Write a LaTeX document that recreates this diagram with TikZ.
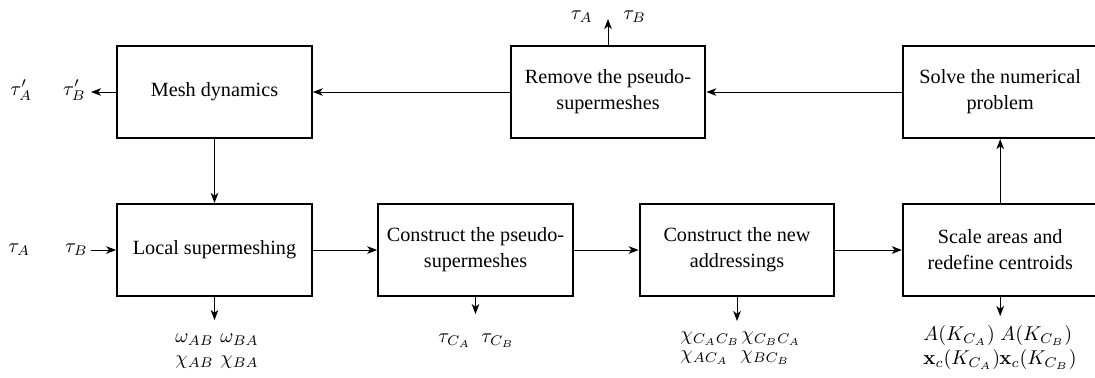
\documentclass[tikz,border=0pt]{standalone}
\usepackage[no-math]{fontspec}
\setmainfont{Liberation Serif}
\newfontfamily\blockfont{Liberation Serif}
\usetikzlibrary{arrows.meta}
\begin{document}
\begin{tikzpicture}[x=0.5pt,y=-0.5pt,
  block/.style={draw, line width=1.1pt, minimum width=97.25pt, minimum height=46pt,
    align=center, inner sep=0pt, font=\blockfont\fontsize{10.1}{13}\selectfont},
  flow/.style={-{Stealth[length=5pt,width=3.8pt,inset=1.4pt]}, line width=0.5pt},
  lbl/.style={inner sep=0pt, font=\fontsize{10}{13}\selectfont}]
\clip (0,0) rectangle (1095,377);

% process blocks
\node[block] (mesh)   at (214.5,92)  {Mesh dynamics};
\node[block] (remove) at (608,92)    {Remove the pseudo-\\supermeshes};
\node[block] (solve)  at (1000.2,92) {Solve the numerical\\problem};
\node[block] (local)  at (214.5,250) {Local supermeshing};
\node[block] (pseudo) at (475.5,250) {Construct the pseudo-\\supermeshes};
\node[block] (new)    at (737,250)   {Construct the new\\addressings};
\node[block] (scale)  at (1000.2,250){Scale areas and\\redefine centroids};

% free ends of inputs and outputs
\coordinate (rmout) at (608,19);
\coordinate (meout) at (91,92);
\coordinate (lcin)  at (91,250);
\coordinate (lcout) at (214.5,320);
\coordinate (psout) at (475.5,314);
\coordinate (nwout) at (737,321);
\coordinate (scout) at (1000.2,316);

% main flow
\draw[flow] (local) -- (pseudo);
\draw[flow] (pseudo) -- (new);
\draw[flow] (new) -- (scale);
\draw[flow] (scale) -- (solve);
\draw[flow] (solve) -- (remove);
\draw[flow] (remove) -- (mesh);
\draw[flow] (mesh) -- (local);

% inputs and outputs
\draw[flow] (remove.north) -- (rmout);
\draw[flow] (mesh.west) -- (meout);
\draw[flow] (lcin) -- (local.west);
\draw[flow] (local.south) -- (lcout);
\draw[flow] (pseudo.south) -- (psout);
\draw[flow] (new.south) -- (nwout);
\draw[flow] (scale.south) -- (scout);

% labels
\node[lbl, anchor=base east] (rmA) at (593,19) {$\tau_A$};
\node[lbl, anchor=base west] (rmB) at (623,19) {$\tau_B$};

\node[lbl, anchor=base west] (meA) at (10,95) {$\tau'_A$};
\node[lbl, anchor=base east] (meB) at (86,95) {$\tau'_B$};

\node[lbl, anchor=base west] (lcA) at (8,252)  {$\tau_A$};
\node[lbl, anchor=base east] (lcB) at (88,252) {$\tau_B$};

\node[lbl, anchor=base west] (wAB) at (175,342)   {$\omega_{AB}$};
\node[lbl, anchor=base west] (wBA) at (220,342)   {$\omega_{BA}$};
\node[lbl, anchor=base west] (cAB) at (175,364.5) {$\chi_{AB}$};
\node[lbl, anchor=base west] (cBA) at (220,364.5) {$\chi_{BA}$};

\node[lbl, anchor=base west] (tCA) at (438,342) {$\tau_{C_A}$};
\node[lbl, anchor=base west] (tCB) at (481,342) {$\tau_{C_B}$};

\node[lbl, anchor=base west] (cCACB) at (680,340) {$\chi_{C_AC_B}$};
\node[lbl, anchor=base west] (cCBCA) at (741,340) {$\chi_{C_BC_A}$};
\node[lbl, anchor=base west] (cACA)  at (680,359.5) {$\chi_{AC_A}$};
\node[lbl, anchor=base west] (cBCB)  at (740,359.5) {$\chi_{BC_B}$};

\node[lbl, anchor=base west] (aCA) at (923,340)   {$A(K_{C_A})$};
\node[lbl, anchor=base west] (aCB) at (1000,340)  {$A(K_{C_B})$};
\node[lbl, anchor=base west] (xCA) at (923,364.5) {$\mathbf{x}_c(K_{C_A})$};
\node[lbl, anchor=base west] (xCB) at (999,364.5) {$\mathbf{x}_c(K_{C_B})$};
\end{tikzpicture}
\end{document}
